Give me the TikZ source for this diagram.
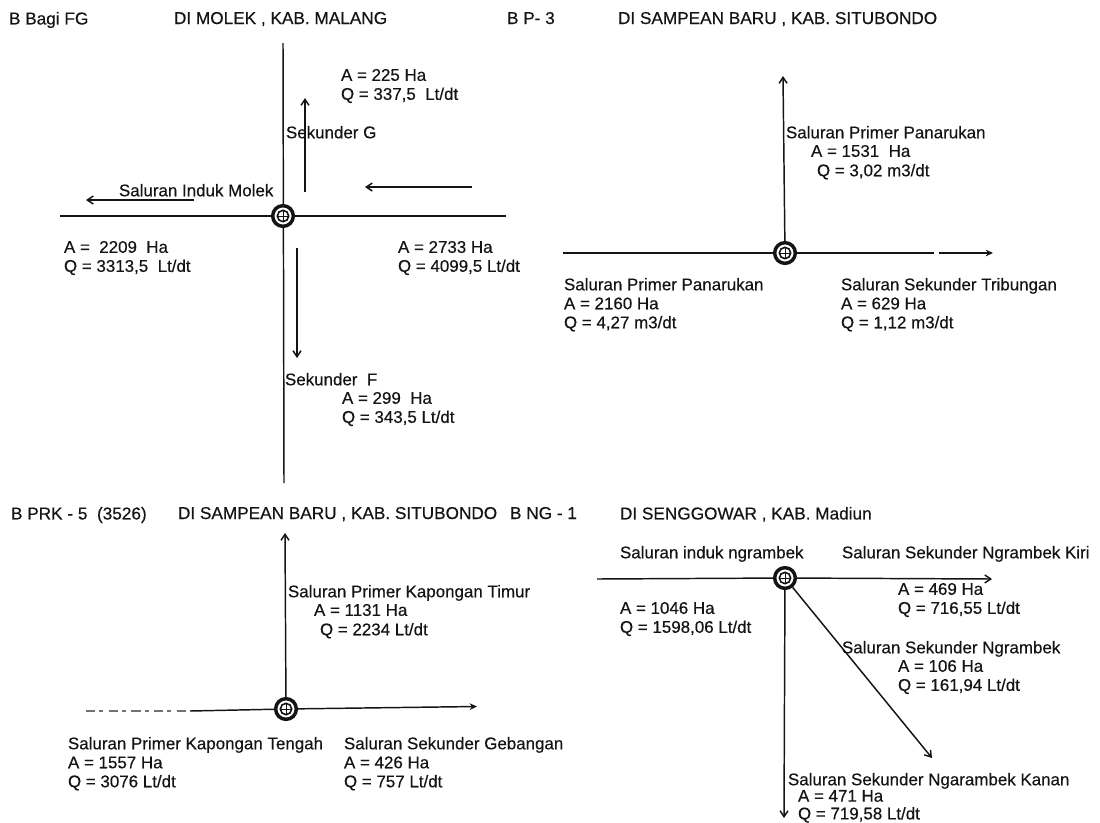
\documentclass[tikz,border=0pt]{standalone}
\usepackage{fontspec}
\setmainfont[FakeBold=0.4]{Liberation Sans}
\usetikzlibrary{arrows.meta}
\definecolor{ink}{HTML}{141414}
\tikzset{
  lbl/.style={anchor=north west,inner sep=0pt,outer sep=0pt,align=left,text=ink,
    font=\fontsize{12.7}{14.25}\selectfont},
  hdr/.style={lbl,font=\fontsize{12.9}{14.25}\selectfont},
  tight/.style={lbl,font=\fontsize{12.7}{13.3}\selectfont},
  line/.style={draw=ink,line width=1.1pt},
  arr/.style={line,-{Straight Barb[length=4.5pt,width=6pt]}},
  arrf/.style={line,-{Stealth[length=5.5pt,width=5pt]}},
  faint/.style={draw=ink!60,line width=0.8pt,dash pattern=on 7pt off 3pt on 3pt off 4pt},
  jout/.style={circle,draw=ink,line width=2.6pt,fill=white,minimum size=15.5pt,inner sep=0pt},
  jin/.style={circle,draw=ink,line width=1.2pt,minimum size=8.5pt,inner sep=0pt}
}
\newcommand{\junction}[2]{%
  \node[jout] (#1) at (#2) {};
  \node[jin] (#1c) at (#2) {};
  \draw[ink,line width=.7pt] (#1c.north) -- (#1c.south) (#1c.west) -- (#1c.east);
}
\begin{document}
\begin{tikzpicture}[x=0.75pt,y=-0.75pt]
\useasboundingbox (0,0) rectangle (1100,822);
% headers
\node[hdr] (h1) at (9,12) {B Bagi FG};
\node[hdr] (h2) at (174,12) {DI MOLEK , KAB. MALANG};
\node[hdr] (h3) at (507,12) {B P- 3};
\node[hdr] (h4) at (618,12) {DI SAMPEAN BARU , KAB. SITUBONDO};
\node[hdr] (h5) at (11,507) {B PRK - 5~~(3526)};
\node[hdr] (h6) at (178,507) {DI SAMPEAN BARU , KAB. SITUBONDO};
\node[hdr] (h7) at (510,507) {B NG - 1};
\node[hdr] (h8) at (620,507) {DI SENGGOWAR , KAB. Madiun};
% Junction 1
\coordinate (a1l) at (60,216); \coordinate (a1r) at (506,216);
\coordinate (a1t) at (283,43); \coordinate (a1b) at (284,483);
\draw[line] (a1l) -- (a1r);
\draw[line] (a1t) -- (a1b);
\junction{j1}{283,216}
\coordinate (u1) at (305,192); \coordinate (u2) at (305,98);
\draw[arr] (u1) -- (u2);
\coordinate (r1) at (472,187); \coordinate (r2) at (365,187);
\draw[arr] (r1) -- (r2);
\coordinate (l1) at (194,200); \coordinate (l2) at (86,200);
\draw[arr] (l1) -- (l2);
\coordinate (d1) at (297,248); \coordinate (d2) at (297,358);
\draw[arr] (d1) -- (d2);
\node[lbl] (t1) at (341,69) {A = 225 Ha\\Q = 337,5~~Lt/dt};
\node[lbl] (t2) at (286,126) {Sekunder G};
\node[lbl] (t3) at (119,184) {Saluran Induk Molek};
\node[lbl] (t4) at (64,241) {A =~~2209~~Ha\\Q = 3313,5~~Lt/dt};
\node[lbl] (t5) at (398,241) {A = 2733 Ha\\Q = 4099,5 Lt/dt};
\node[lbl] (t6) at (285,373) {Sekunder~~F};
\node[lbl] (t7) at (342,392) {A = 299~~Ha\\Q = 343,5 Lt/dt};
% Junction 2
\junction{j2}{785,253}
\coordinate (b2l) at (563,253); \coordinate (b2g1) at (934,253); \coordinate (b2g2) at (939,253);
\coordinate (b2r) at (993,253); \coordinate (b2t) at (783,76);
\draw[line] (b2l) -- (j2);
\draw[line] (j2) -- (b2g1);
\draw[arrf] (b2g2) -- (b2r);
\draw[arr] (j2) -- (b2t);
\node[lbl] (t8) at (786,126) {Saluran Primer Panarukan};
\node[lbl] (t9) at (811,145) {A = 1531~~Ha};
\node[lbl] (t10) at (817,164) {Q = 3,02 m3/dt};
\node[lbl] (t11) at (564,278) {Saluran Primer Panarukan\\A = 2160 Ha\\Q = 4,27 m3/dt};
\node[lbl] (t12) at (841,278) {Saluran Sekunder Tribungan\\A = 629 Ha\\Q = 1,12 m3/dt};
% Junction 3
\junction{j3}{286,709}
\coordinate (c3l) at (86,711); \coordinate (c3m) at (190,711);
\coordinate (c3r) at (477,706.5); \coordinate (c3t) at (285,533);
\draw[faint] (c3l) -- (c3m);
\draw[line] (c3m) -- (j3);
\draw[arrf] (j3) -- (c3r);
\draw[arr] (j3) -- (c3t);
\node[lbl] (t13) at (288,585) {Saluran Primer Kapongan Timur};
\node[lbl] (t14) at (314,604) {A = 1131 Ha};
\node[lbl] (t15) at (320,623) {Q = 2234 Lt/dt};
\node[lbl] (t16) at (68,737) {Saluran Primer Kapongan Tengah\\A = 1557 Ha\\Q = 3076 Lt/dt};
\node[lbl] (t17) at (344,737) {Saluran Sekunder Gebangan\\A = 426 Ha\\Q = 757 Lt/dt};
% Junction 4
\junction{j4}{785,578}
\coordinate (d4l) at (597,579); \coordinate (d4r) at (992,579);
\coordinate (d4b) at (784,818); \coordinate (d4d) at (932,758);
\draw[line] (d4l) -- (j4);
\draw[arr] (j4) -- (d4r);
\draw[arr] (j4) -- (d4b);
\draw[arr] (j4) -- (d4d);
\node[lbl] (t18) at (620,546) {Saluran induk ngrambek};
\node[lbl] (t19) at (842,546) {Saluran Sekunder Ngrambek Kiri};
\node[lbl] (t20) at (898,583) {A = 469 Ha\\Q = 716,55 Lt/dt};
\node[lbl] (t21) at (620,602) {A = 1046 Ha\\Q = 1598,06 Lt/dt};
\node[lbl] (t22) at (842,641) {Saluran Sekunder Ngrambek};
\node[lbl] (t23) at (898,660) {A = 106 Ha\\Q = 161,94 Lt/dt};
\node[lbl] (t24) at (788,773) {Saluran Sekunder Ngarambek Kanan};
\node[tight] (t25) at (798,790) {A = 471 Ha\\Q = 719,58 Lt/dt};
\end{tikzpicture}
\end{document}
